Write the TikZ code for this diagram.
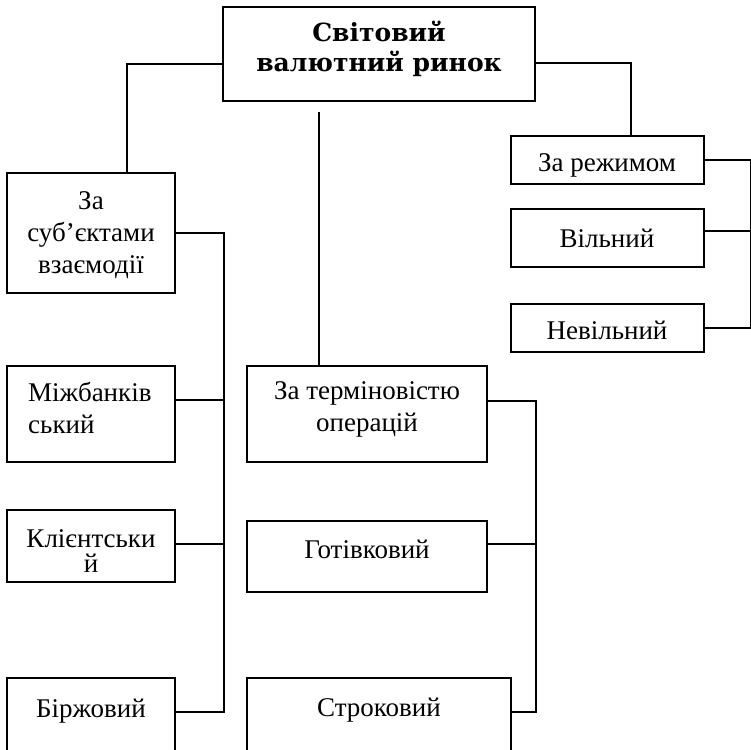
\documentclass[tikz,border=0pt]{standalone}
\usepackage{fontspec}
\setmainfont{Liberation Serif}
\newfontfamily\titlefont{DejaVu Serif}
\begin{document}
\begin{tikzpicture}[x=1pt,y=-1pt,
  box/.style={draw, line width=2pt, inner sep=0pt, rectangle},
  lbl/.style={inner sep=0pt, anchor=base, align=center, font=\fontsize{27}{32}\selectfont},
  ttl/.style={inner sep=0pt, anchor=base, align=center, font=\titlefont\bfseries\fontsize{25}{30}\selectfont},
  conn/.style={line width=1.6pt}]
\useasboundingbox (0,0) rectangle (751,749);
\clip (0,0) rectangle (751,749);
% boxes
\node[box, minimum width=312pt, minimum height=94pt] (top) at (379,54) {};
\node[box, minimum width=168pt, minimum height=120pt] (lsub) at (91,233) {};
\node[box, minimum width=168pt, minimum height=96pt] (mizh) at (91,414) {};
\node[box, minimum width=168pt, minimum height=72pt] (klient) at (91,546) {};
\node[box, minimum width=168pt, minimum height=112pt] (birzh) at (91,734) {};
\node[box, minimum width=240pt, minimum height=96pt] (term) at (367,414) {};
\node[box, minimum width=240pt, minimum height=71pt] (gotiv) at (367,556.5) {};
\node[box, minimum width=264pt, minimum height=112pt] (strok) at (379,734) {};
\node[box, minimum width=193pt, minimum height=48pt] (rezh) at (607.5,160) {};
\node[box, minimum width=193pt, minimum height=58pt] (vil) at (607.5,238) {};
\node[box, minimum width=193pt, minimum height=48pt] (nevil) at (607.5,328) {};
% texts (base anchor = baseline of last line)
\node[ttl] (topT) at (379,72) {Світовий\\валютний ринок};
\node[lbl] (lsubT) at (91,273) {За\\суб’єктами\\взаємодії};
\node[lbl, anchor=base west, align=left] (mizhT) at (28,433) {Міжбанків\\ський};
\node[lbl, font=\fontsize{27}{25}\selectfont] (klientT) at (91,572) {Клієнтськи\\й};
\node[lbl] (birzhT) at (91,717) {Біржовий};
\node[lbl] (termT) at (367,431) {За терміновістю\\операцій};
\node[lbl] (gotivT) at (367,558) {Готівковий};
\node[lbl] (strokT) at (379,716) {Строковий};
\node[lbl] (rezhT) at (607,171) {За режимом};
\node[lbl] (vilT) at (607,247) {Вільний};
\node[lbl] (nevilT) at (607,339) {Невільний};
% connectors
\coordinate (cstart) at (319,112);
\draw[conn] (top.west |- 0,64) -| (lsub.north -| 127,0);
\draw[conn] (cstart) -- (term.north -| cstart);
\draw[conn] (top.east |- 0,63) -| (rezh.north -| 631,0);
\draw[conn] (lsub.east |- 0,233) -- ++(48,0) |- (birzh.east |- 0,712);
\draw[conn] (mizh.east |- 0,400) -- ++(48,0);
\draw[conn] (klient.east |- 0,544) -- ++(48,0);
\draw[conn] (term.east |- 0,401) -- ++(48,0) |- (strok.east |- 0,712);
\draw[conn] (gotiv.east |- 0,544) -- ++(48,0);
\draw[conn] (rezh.east |- 0,160) -- ++(46,0) |- (nevil.east |- 0,328);
\draw[conn] (vil.east |- 0,231) -- ++(46,0);
\end{tikzpicture}
\end{document}
